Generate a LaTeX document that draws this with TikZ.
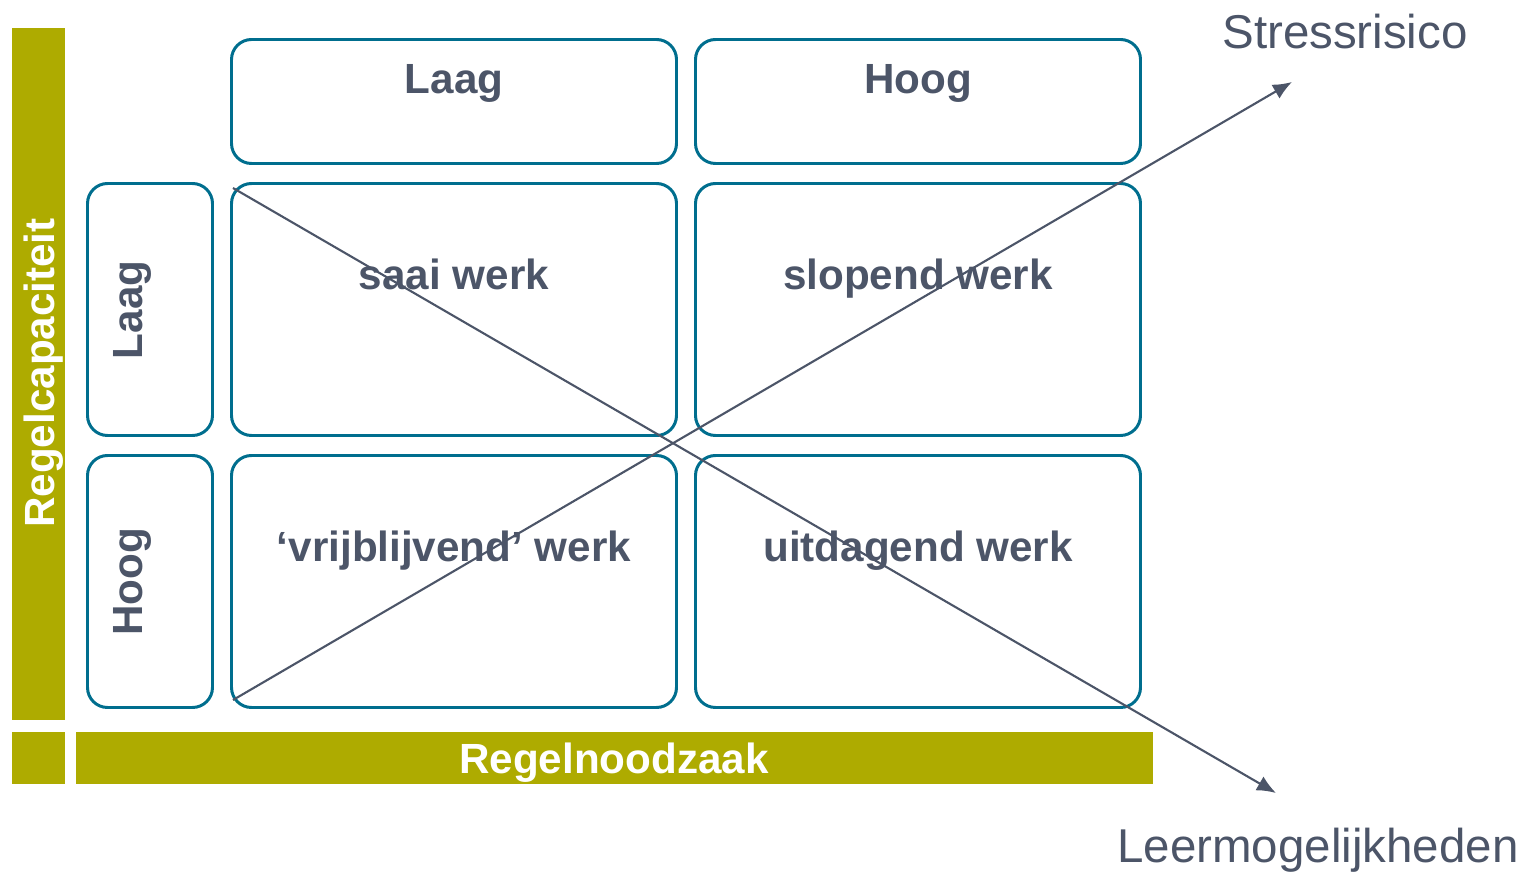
\documentclass[tikz,border=0pt]{standalone}
\usepackage{fontspec}
\setmainfont{Liberation Sans}
\usetikzlibrary{arrows.meta}
\definecolor{olijf}{HTML}{AEAB00}
\definecolor{petrol}{HTML}{006E8E}
\definecolor{leisteen}{HTML}{4C5568}
\tikzset{
  vak/.style={draw=petrol, line width=0.85pt, rounded corners=0.2cm},
  kop/.style={text=leisteen, font=\fontsize{12}{14}\selectfont\bfseries},
  balktekst/.style={text=white, font=\fontsize{12}{14}\selectfont\bfseries},
  as/.style={text=leisteen, font=\fontsize{13.5}{16}\selectfont},
  pijl/.style={draw=leisteen, line width=0.6pt, -{Latex[length=0.19cm,width=0.16cm]}}
}

\begin{document}
\begin{tikzpicture}[x=0.01cm,y=0.01cm]
\useasboundingbox (0,0) rectangle (1526,875);
% de balken
\begin{scope}[olijf]
\fill (12,155) rectangle (65,847);
\fill (12,91) rectangle (65,143);
\fill (76,91) rectangle (1153,143);
\end{scope}
\node[balktekst, rotate=90] (capaciteit) at (44,502) {Regelcapaciteit};
\node[balktekst] (noodzaak) at (614,112) {Regelnoodzaak};
% kopjes boven
\draw[vak] (231.5,711.5) rectangle (676.5,835.5);
\draw[vak] (695.5,711.5) rectangle (1140.5,835.5);
\node[kop, anchor=base] (boven laag) at (454,781) {Laag};
\node[kop, anchor=base] (boven hoog) at (918,781) {Hoog};
% kopjes links
\draw[vak] (87.5,439.5) rectangle (212.5,691.5);
\draw[vak] (87.5,167.5) rectangle (212.5,419.5);
\node[kop, rotate=90] (links laag) at (132,565) {Laag};
\node[kop, rotate=90] (links hoog) at (132,293) {Hoog};
% de vier vakken
%     1e rij
\draw[vak] (231.5,439.5) rectangle (676.5,691.5);
\draw[vak] (695.5,439.5) rectangle (1140.5,691.5);
\node[kop, anchor=base] (saai) at (454,585) {saai werk};
\node[kop, anchor=base] (slopend) at (918,585) {slopend werk};
%     2e rij
\draw[vak] (231.5,167.5) rectangle (676.5,419.5);
\draw[vak] (695.5,167.5) rectangle (1140.5,419.5);
\node[kop, anchor=base] (vrijblijvend) at (454,313) {‘vrijblijvend’ werk};
\node[kop, anchor=base] (uitdagend) at (918,313) {uitdagend werk};
% de diagonalen
\node[as] (stress) at (1345,843) {Stressrisico};
\node[as] (leren) at (1318,25) {Leermogelijkheden};
\coordinate (s0) at (233,175);
\coordinate (s1) at (1292,793);
\coordinate (l0) at (233,687);
\coordinate (l1) at (1276,82);
\draw[pijl] (s0) -- (s1);
\draw[pijl] (l0) -- (l1);
\end{tikzpicture}
\end{document}
